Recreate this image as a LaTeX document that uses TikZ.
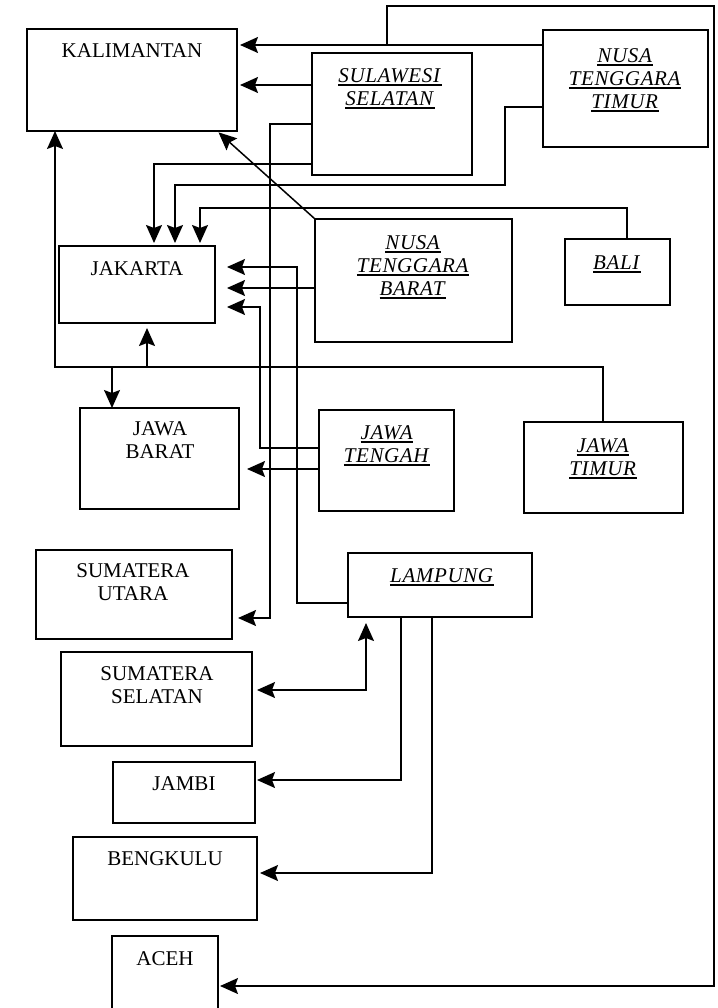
\documentclass[tikz,border=0pt]{standalone}
\usepackage{fontspec}
\setmainfont{Liberation Serif}
\usetikzlibrary{arrows.meta}
\newcommand\uit[1]{\setbox0\hbox{\addfontfeatures{LetterSpace=3}\textit{#1}}\rlap{\rule[-3.5pt]{\wd0}{1.2pt}}\box0}
\newcommand\regbox[5]{\node[regbox, minimum width={(#4-#2)*1pt}, minimum height={(#5-#3)*1pt}] (#1) at ({(#2+#4)/2},{(#3+#5)/2}) {};}
\tikzset{
  regbox/.style={draw, line width=1.5pt, inner sep=0pt, outer sep=0pt, rectangle},
  txt/.style={inner sep=0pt, anchor=north, align=center, font=\fontsize{21}{23}\selectfont},
  conn/.style={line width=1.5pt},
  arr/.style={conn, -{Stealth[length=18pt,width=16pt,inset=3pt]}},
  darr/.style={conn, {Stealth[length=18pt,width=16pt,inset=3pt]}-{Stealth[length=18pt,width=16pt,inset=3pt]}},
}
\begin{document}
\begin{tikzpicture}[x=1pt,y=-1pt]
\useasboundingbox (0,0) rectangle (717,1008);
\clip (0,0) rectangle (717,1008);
\fill[white] (0,0) rectangle (717,1008);
% boxes
\regbox{kal}{27}{29}{237}{131}
\regbox{sul}{312}{53}{472}{175}
\regbox{ntt}{543}{30}{708}{147}
\regbox{jak}{59}{246}{215}{323}
\regbox{ntb}{315}{219}{512}{342}
\regbox{bali}{565}{239}{670}{305}
\regbox{jab}{80}{408}{239}{509}
\regbox{jat}{319}{410}{454}{511}
\regbox{jatim}{524}{422}{683}{513}
\regbox{sumut}{36}{550}{232}{639}
\regbox{sums}{61}{652}{252}{746}
\regbox{lam}{348}{553}{532}{617}
\regbox{jambi}{113}{762}{255}{823}
\regbox{beng}{73}{837}{257}{920}
\regbox{aceh}{112}{936}{218}{1020}
% texts
\node[txt] (kalt) at (132,43) {KALIMANTAN};
\node[txt] (sult) at (390,68) {\uit{SULAWESI}\\\uit{SELATAN}};
\node[txt] (nttt) at (625,48) {\uit{NUSA}\\\uit{TENGGARA}\\\uit{TIMUR}};
\node[txt] (jakt) at (137,261) {JAKARTA};
\node[txt] (ntbt) at (413,235) {\uit{NUSA}\\\uit{TENGGARA}\\\uit{BARAT}};
\node[txt] (balit) at (617,255) {\uit{BALI}};
\node[txt] (jabt) at (160,421) {JAWA\\BARAT};
\node[txt] (jatt) at (387,425) {\uit{JAWA}\\\uit{TENGAH}};
\node[txt] (jatimt) at (603,438) {\uit{JAWA}\\\uit{TIMUR}};
\node[txt] (sumutt) at (133,563) {SUMATERA\\UTARA};
\node[txt] (sumst) at (157,666) {SUMATERA\\SELATAN};
\node[txt] (lamt) at (442,568) {\uit{LAMPUNG}};
\node[txt] (jambit) at (184,776) {JAMBI};
\node[txt] (bengt) at (165,851) {BENGKULU};
\node[txt] (aceht) at (165,951) {ACEH};
% junction coordinates
\coordinate (jtop) at (387,45);
\coordinate (jmid) at (147,367);
\coordinate (jjab) at (112,367);
% connectors
\draw[arr, shorten >=3pt] (ntt.west |- 0,45) -- (kal.east |- 0,45);
\draw[arr, shorten >=2pt] (jtop) -- (387,6) -- (714,6) -- (714,986) -- (aceh.east |- 0,986);
\draw[arr, shorten >=3pt] (sul.west |- 0,85) -- (kal.east |- 0,85);
\draw[arr, shorten >=6pt] (sul.west |- 0,124) -- (270,124) -- (270,618) -- (sumut.east |- 0,618);
\draw[arr, shorten >=3pt] (sul.west |- 0,164) -- (154,164) -- (jak.north -| 154,0);
\draw[arr, shorten >=3pt] (ntt.west |- 0,107) -- (505,107) -- (505,185) -- (175,185) -- (jak.north -| 175,0);
\draw[arr, shorten >=3pt] (bali.north -| 627,0) -- (627,208) -- (200,208) -- (jak.north -| 200,0);
\draw[arr, shorten >=2pt] (ntb.north west) -- (kal.south -| 217,0);
\draw[arr, shorten >=12pt] (lam.west |- 0,603) -- (297,603) -- (297,267) -- (jak.east |- 0,267);
\draw[arr, shorten >=12pt] (ntb.west |- 0,288) -- (jak.east |- 0,288);
\draw[arr, shorten >=12pt] (jat.west |- 0,448) -- (260,448) -- (260,307) -- (jak.east |- 0,307);
\draw[arr, shorten >=8pt] (jat.west |- 0,469) -- (jab.east |- 0,469);
\draw[arr] (jatim.north -| 603,0) -- (603,367) -- (55,367) -- (kal.south -| 55,0);
\draw[arr, shorten >=5pt] (jmid) -- (jak.south -| 147,0);
\draw[arr] (jjab) -- (jab.north -| 112,0);
\draw[darr, shorten >=6pt, shorten <=5pt] (sums.east |- 0,690) -- (366,690) -- (lam.south -| 366,0);
\draw[arr, shorten >=2pt] (lam.south -| 401,0) -- (401,780) -- (jambi.east |- 0,780);
\draw[arr, shorten >=3pt] (lam.south -| 432,0) -- (432,873) -- (beng.east |- 0,873);
\end{tikzpicture}
\end{document}
